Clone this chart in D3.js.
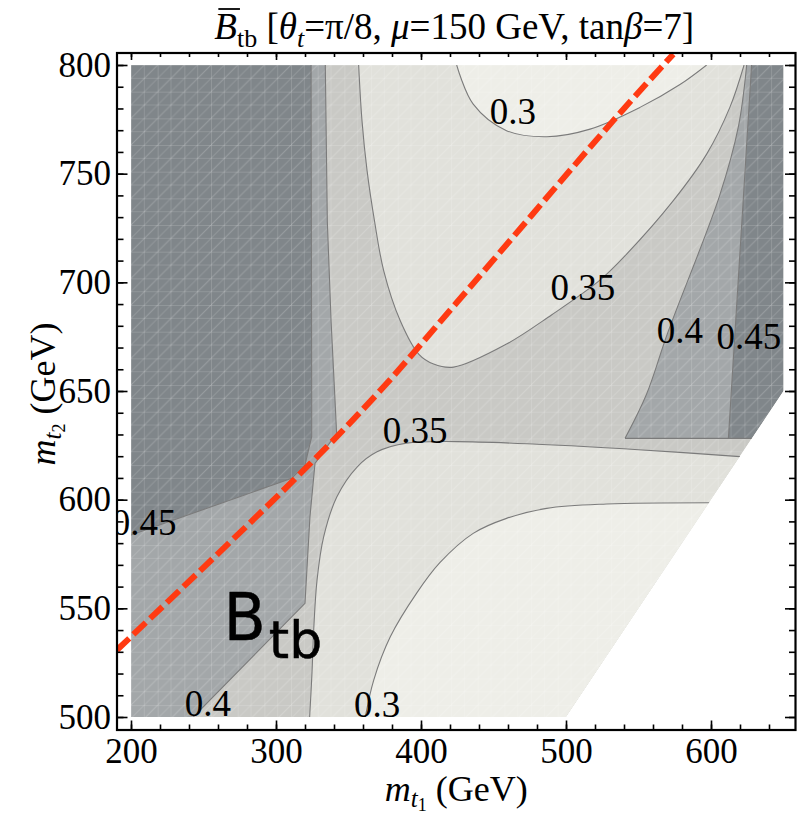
<!DOCTYPE html>
<html>
<head>
<meta charset="utf-8">
<script src="https://cdn.jsdelivr.net/npm/d3@7"></script>
<style>
body { margin: 0; background: #fff; }
svg { display: block; }
</style>
</head>
<body>
<svg id="chart" width="797" height="819"></svg>
<script>
// Frame and plotting area (Mathematica style frame with inward ticks)
const width = 797;
const height = 819;
const frame = { left: 117, right: 795.5, top: 53, bottom: 730 };
const serif = "'Liberation Serif', 'Times New Roman', serif";

// Ticks
const xMajor = [200, 300, 400, 500, 600];
const xMinor = d3.range(200, 641, 20);
const yMajor = [500, 550, 600, 650, 700, 750, 800];
const yMinor = d3.range(500, 801, 10);

// Valid region of the scan (m_t2 >= m_t1)
const domainEdge = [[200, 500], [500, 500], [650, 650], [650, 800], [200, 800]];

// Contour lines, [m_t1, m_t2] in GeV
const c30Upper = [[424.6, 800], [436, 782], [459, 769.8], [486.7, 767], [516.6, 770.5], [551, 780.5], [578.6, 791], [597, 800]];
const c35Upper = [[357, 800], [359.3, 774.4], [362.8, 751.4], [368, 728], [374.3, 705.3], [385.7, 682.3], [398.4, 667],
    [408.7, 662.4], [422.5, 661], [459, 671.6], [490, 685], [523.4, 701], [541.8, 713], [574, 737.6], [597, 759], [613, 780.5], [622.8, 800]];
const c35Lower = [[323.2, 500], [324.8, 520], [326, 540], [328.3, 563], [332.9, 583], [342, 601.3], [355.9, 615], [369.7, 622],
    [390, 626], [424.8, 626.7], [480, 625.5], [550, 623], [620, 619.8]];
const c30Lower = [[361.6, 500], [367.4, 517], [378.9, 537], [397, 557], [413, 571], [436, 584.5], [459, 591.4], [486.7, 596], [528, 598], [599.3, 598.6]];
const c40Left = [[243, 500], [320, 552.3], [323.4, 592], [326.9, 616.7], [341.8, 630.5], [340.7, 645.8], [338, 682], [335.4, 728], [334, 800]];
const c45Left = [[200, 583.7], [310.8, 609.8], [320, 616], [324.6, 629], [324.6, 645.8], [324.2, 800]];
const c40Right = [[540.7, 628.2], [555.6, 648.6], [570, 676.5], [606, 740], [619, 772], [624.6, 800]];
const c40Bottom = [[540.7, 628.2], [628, 628.2]];
const c45Right = [[612, 628.2], [621.3, 728], [628, 800]];

// Contour labels: text and centre [m_t1, m_t2]
const labelText = ["0.3", "0.35", "0.4", "0.45", "0.35", "0.45", "0.4", "0.3"];
const labelPos = [[463.4, 778.8], [511.7, 697.8], [578.6, 678], [626.2, 675.3], [395.9, 632], [209, 589.7], [253.1, 506.4], [369.7, 506]];

// Red dashed curve
const redLine = [[190.3, 530.8], [312.2, 609], [369.7, 648.6], [424.8, 690.8], [532.6, 774.4], [574, 805]];

const x = d3.scaleLinear().domain([200, 650]).range([131, 783.5]);
const y = d3.scaleLinear().domain([500, 800]).range([717, 65]);

const svg = d3.select("#chart");
const defs = svg.append("defs");

defs.append("clipPath").attr("id", "domainClip")
    .append("path")
    .attr("d", d3.line().x(d => x(d[0])).y(d => y(d[1]))(domainEdge) + "Z");

defs.append("clipPath").attr("id", "frameClip")
    .append("rect")
    .attr("x", frame.left).attr("y", frame.top)
    .attr("width", frame.right - frame.left).attr("height", frame.bottom - frame.top);

// faint white mesh seen in the rendered contour plot
const cell = 26.67;
const mesh = defs.append("pattern").attr("id", "mesh")
    .attr("patternUnits", "userSpaceOnUse")
    .attr("x", 131).attr("y", 65)
    .attr("width", cell).attr("height", cell);
[[0, 0, 0, cell, 0.28], [0, 0, cell, 0, 0.28], [cell / 2, 0, cell / 2, cell, 0.13], [0, cell / 2, cell, cell / 2, 0.13],
 [0, cell, cell, 0, 0.2], [0, cell / 2, cell / 2, 0, 0.14], [cell / 2, cell, cell, cell / 2, 0.14]].forEach(l => {
    mesh.append("line")
        .attr("x1", l[0]).attr("y1", l[1]).attr("x2", l[2]).attr("y2", l[3])
        .attr("stroke", "#fff").attr("stroke-opacity", l[4]).attr("stroke-width", 1);
});

const smooth = d3.line().x(d => x(d[0])).y(d => y(d[1])).curve(d3.curveCatmullRom);
const straight = d3.line().x(d => x(d[0])).y(d => y(d[1]));
const lineTo = pts => pts.map(p => `L${x(p[0])},${y(p[1])}`).join("");

// Filled bands
const fills = svg.append("g").attr("clip-path", "url(#domainClip)");

fills.append("path").attr("d", straight(domainEdge) + "Z").attr("fill", "#c9c9c5");   // 0.35 - 0.4
fills.append("path").attr("d", smooth(c35Upper) + "Z").attr("fill", "#e1e1db");       // 0.3 - 0.35
fills.append("path").attr("d", smooth(c35Lower) + lineTo([[500, 500]]) + "Z").attr("fill", "#e1e1db");
fills.append("path").attr("d", smooth(c30Upper) + "Z").attr("fill", "#eeeee8");       // < 0.3
fills.append("path").attr("d", smooth(c30Lower) + lineTo([[500, 500]]) + "Z").attr("fill", "#eeeee8");
// 0.4 - 0.45
fills.append("path")
    .attr("d", straight(c40Left) + lineTo(c45Left.slice().reverse()) + lineTo([[200, 500]]) + "Z")
    .attr("fill", "#a3a7a9");
fills.append("path")
    .attr("d", smooth(c40Right) + lineTo(c45Right.slice().reverse()) + "Z")
    .attr("fill", "#a3a7a9");
// > 0.45
fills.append("path").attr("d", straight(c45Left) + lineTo([[200, 800]]) + "Z").attr("fill", "#80868a");
fills.append("path")
    .attr("d", straight(c45Right) + lineTo([[650, 800], [650, 650], [628, 628]]) + "Z")
    .attr("fill", "#80868a");

fills.append("rect")
    .attr("x", 0).attr("y", 0).attr("width", width).attr("height", height)
    .attr("fill", "url(#mesh)");

// Contour lines
const lines = svg.append("g").attr("clip-path", "url(#domainClip)")
    .attr("fill", "none").attr("stroke", "#7b7b7b").attr("stroke-width", 1.1);
[c30Upper, c35Upper, c35Lower, c30Lower, c40Right].forEach(c => lines.append("path").attr("d", smooth(c)));
[c40Left, c45Left, c40Bottom, c45Right].forEach(c => lines.append("path").attr("d", straight(c)));

// Red dashed line
svg.append("path")
    .attr("clip-path", "url(#frameClip)")
    .attr("d", smooth(redLine))
    .attr("fill", "none")
    .attr("stroke", "#ff3a12")
    .attr("stroke-width", 6)
    .attr("stroke-dasharray", "17 6");

// Contour labels
svg.append("g").attr("clip-path", "url(#frameClip)").selectAll("text")
    .data(labelText)
    .enter()
    .append("text")
    .attr("x", (d, i) => x(labelPos[i][0]))
    .attr("y", (d, i) => y(labelPos[i][1]))
    .attr("dy", "0.34em")
    .attr("text-anchor", "middle")
    .style("font-family", serif)
    .attr("font-size", 37)
    .attr("fill", "#000")
    .text(d => d);

// B_tb annotation (rounded hand-style sans in the original)
const btb = svg.append("text")
    .attr("x", x(264)).attr("y", y(535.4))
    .style("font-family", "'DejaVu Sans', 'Noto Sans', sans-serif")
    .attr("fill", "#000").attr("stroke", "#000").attr("stroke-width", 0.5)
    .attr("stroke-linejoin", "round");
btb.append("tspan").attr("font-size", 66).attr("textLength", 42).attr("lengthAdjust", "spacingAndGlyphs").text("B");
btb.append("tspan").attr("font-size", 52).attr("dy", 18).attr("dx", 3).text("tb");

// Frame
svg.append("rect")
    .attr("x", frame.left).attr("y", frame.top)
    .attr("width", frame.right - frame.left).attr("height", frame.bottom - frame.top)
    .attr("fill", "none").attr("stroke", "#000").attr("stroke-width", 2.2);

// Axes
function styleAxis(g) {
    g.select(".domain").remove();
    g.selectAll(".tick line").attr("stroke", "#000").attr("stroke-width", 1.6);
    g.attr("font-family", serif).attr("font-size", 35);
    g.selectAll("text").style("font-family", serif).attr("font-size", 35).attr("fill", "#000");
}

svg.append("g").attr("transform", `translate(0,${frame.bottom})`)
    .call(d3.axisBottom(x).tickValues(xMinor).tickSize(-5.5).tickFormat("")).call(styleAxis);
svg.append("g").attr("transform", `translate(0,${frame.bottom})`)
    .call(d3.axisBottom(x).tickValues(xMajor).tickSize(-9.5).tickPadding(8).tickFormat(d3.format("d"))).call(styleAxis);
svg.append("g").attr("transform", `translate(0,${frame.top})`)
    .call(d3.axisTop(x).tickValues(xMinor).tickSize(-4).tickFormat("")).call(styleAxis);
svg.append("g").attr("transform", `translate(0,${frame.top})`)
    .call(d3.axisTop(x).tickValues(xMajor).tickSize(-7).tickFormat("")).call(styleAxis);
svg.append("g").attr("transform", `translate(${frame.left},0)`)
    .call(d3.axisLeft(y).tickValues(yMinor).tickSize(-6.5).tickFormat("")).call(styleAxis);
svg.append("g").attr("transform", `translate(${frame.left},0)`)
    .call(d3.axisLeft(y).tickValues(yMajor).tickSize(-10.5).tickPadding(6).tickFormat(d3.format("d"))).call(styleAxis);
svg.append("g").attr("transform", `translate(${frame.right},0)`)
    .call(d3.axisRight(y).tickValues(yMinor).tickSize(-6.5).tickFormat("")).call(styleAxis);
svg.append("g").attr("transform", `translate(${frame.right},0)`)
    .call(d3.axisRight(y).tickValues(yMajor).tickSize(-10.5).tickFormat("")).call(styleAxis);

// Title
const title = svg.append("text")
    .attr("x", (frame.left + frame.right) / 2 - 2).attr("y", 39)
    .attr("text-anchor", "middle").style("font-family", serif).attr("font-size", 37).attr("fill", "#000");
title.append("tspan").attr("font-style", "italic").text("B");
title.append("tspan").attr("font-size", 26).attr("dy", 8).text("tb");
title.append("tspan").attr("dy", -8).text(" [");
title.append("tspan").attr("font-style", "italic").text("θ");
title.append("tspan").attr("font-style", "italic").attr("font-size", 26).attr("dy", 8).text("t");
title.append("tspan").attr("dy", -8).text("=π/8, ");
title.append("tspan").attr("font-style", "italic").text("μ");
title.append("tspan").text("=150 GeV, tan");
title.append("tspan").attr("font-style", "italic").text("β");
title.append("tspan").text("=7]");

const bBox = title.node().getExtentOfChar(0);
svg.append("line")
    .attr("x1", bBox.x + 4).attr("x2", bBox.x + bBox.width + 3)
    .attr("y1", bBox.y + 3).attr("y2", bBox.y + 3)
    .attr("stroke", "#000").attr("stroke-width", 1.8);

// Axis labels
const xLabel = svg.append("text")
    .attr("x", (frame.left + frame.right) / 2).attr("y", 801)
    .attr("text-anchor", "middle").style("font-family", serif).attr("font-size", 36).attr("fill", "#000");
xLabel.append("tspan").attr("font-style", "italic").text("m");
xLabel.append("tspan").attr("font-style", "italic").attr("font-size", 25).attr("dy", 6).text("t");
xLabel.append("tspan").attr("font-size", 18).attr("dy", 4).text("1");
xLabel.append("tspan").attr("dy", -10).text(" (GeV)");

const yLabel = svg.append("text")
    .attr("transform", `translate(55,${(y(500) + y(800)) / 2 + 3}) rotate(-90)`)
    .attr("text-anchor", "middle").style("font-family", serif).attr("font-size", 36).attr("fill", "#000");
yLabel.append("tspan").attr("font-style", "italic").text("m");
yLabel.append("tspan").attr("font-style", "italic").attr("font-size", 25).attr("dy", 6).text("t");
yLabel.append("tspan").attr("font-size", 18).attr("dy", 4).text("2");
yLabel.append("tspan").attr("dy", -10).text(" (GeV)");
</script>
</body>
</html>
